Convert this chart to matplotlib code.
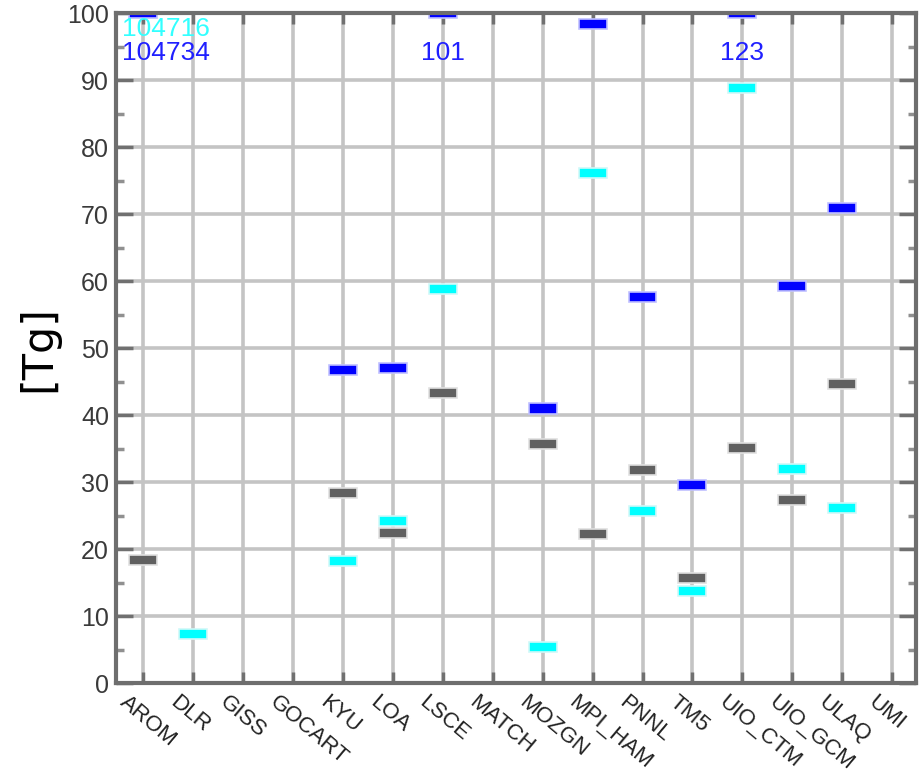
import numpy as np
import matplotlib as mpl
import matplotlib.pyplot as plt
import matplotlib.transforms as mtrans

# models on the x axis
models = ['AROM', 'DLR', 'GISS', 'GOCART', 'KYU', 'LOA', 'LSCE', 'MATCH',
          'MOZGN', 'MPI_HAM', 'PNNL', 'TM5', 'UIO_CTM', 'UIO_GCM', 'ULAQ', 'UMI']

# values in Tg (nan = no value for that model)
nan = np.nan
blue_vals = [104734, nan, nan, nan, 46.7, 47.0, 101, nan,
             41.0, 98.4, 57.6, 29.6, 123, 59.3, 70.9, nan]
cyan_vals = [104716, 7.3, nan, nan, 18.2, 24.2, 58.8, nan,
             5.4, 76.1, 25.7, 13.7, 88.8, 31.9, 26.1, nan]
gray_vals = [18.4, nan, nan, nan, 28.4, 22.4, 43.3, nan,
             35.7, 22.2, 31.8, 15.7, 35.1, 27.3, 44.6, nan]

ymax = 100

mpl.rcParams['font.family'] = ['Liberation Sans', 'DejaVu Sans']

fig = plt.figure(figsize=(9.23, 7.76), dpi=100)
ax = fig.add_axes([0.1257, 0.1198, 0.8667, 0.8634])

x = np.arange(len(models))
ax.set_xlim(-0.55, len(models) - 0.52)
ax.set_ylim(0, ymax)

# grid
for xi in x:
    ax.axvline(xi, color='#c4c4c4', lw=2.6, zorder=1)
for yv in range(10, ymax, 10):
    ax.axhline(yv, color='#c4c4c4', lw=2.6, zorder=1)

# markers: short horizontal bars, clipped at top of axes
def draw_marks(vals, color, halo):
    v = np.array(vals, dtype=float)
    ok = ~np.isnan(v)
    yy = np.minimum(v[ok], ymax)
    ax.bar(x[ok], 1.55, bottom=yy - 0.775, width=0.56, color=color,
           edgecolor=halo, linewidth=1.2, zorder=3)

draw_marks(gray_vals, '#606060', '#e0e0e0')
draw_marks(cyan_vals, '#00ffff', '#d0f8f8')
draw_marks(blue_vals, '#0000ff', '#c0c0ff')

# off-scale values written at the top
for series, color, ypos in [(cyan_vals, '#33ffff', 96.5), (blue_vals, '#2020ff', 93.0)]:
    for xi, v in zip(x, series):
        if not np.isnan(v) and v > ymax:
            if xi == 0:
                ax.text(-0.44, ypos, str(int(v)), color=color, fontsize=19,
                        ha='left', va='baseline', zorder=4)
            else:
                ax.text(xi, ypos, str(int(v)), color=color, fontsize=19,
                        ha='center', va='baseline', zorder=4)

# axes frame and ticks
for sp in ax.spines.values():
    sp.set_color('#6e6e6e')
    sp.set_linewidth(3)
    sp.set_zorder(5)

ax.set_yticks(range(0, ymax + 1, 10))
ax.set_yticks(range(5, ymax, 10), minor=True)
ax.tick_params(axis='y', which='major', direction='in', length=12, width=2.5,
               color='#707070', left=True, right=True, labelsize=18,
               labelcolor='#3a3a3a', pad=5)
ax.tick_params(axis='y', which='minor', direction='in', length=6, width=2.5,
               color='#909090', left=True, right=True)
ax.set_xticks(x)
ax.tick_params(axis='x', which='major', direction='in', length=8, width=2.5,
               color='#707070', top=True, bottom=True, labelsize=16, pad=4)
ax.set_xticklabels(models, rotation=-40, ha='left', va='top',
                   rotation_mode='anchor', color='#222222')
offset = mtrans.ScaledTranslation(-14 / 100, -3 / 100, fig.dpi_scale_trans)
for lab in ax.get_xticklabels():
    lab.set_transform(lab.get_transform() + offset)

ax.set_ylabel('[Tg]', fontsize=31, family='DejaVu Sans', labelpad=6)

plt.savefig('out.png', dpi=100)
